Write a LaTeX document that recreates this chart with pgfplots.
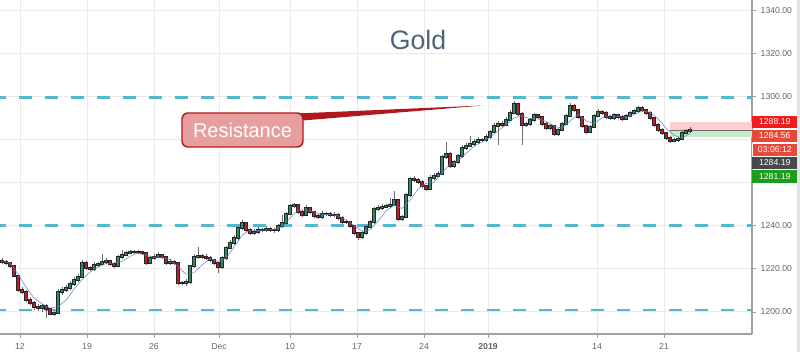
\documentclass[border=0pt]{standalone}
\usepackage{pgfplots}
\pgfplotsset{compat=1.18}
\usepackage{pgfplotstable}
\usepackage{fontspec}
\setmainfont{Liberation Sans}
\definecolor{upc}{RGB}{46,140,98}
\definecolor{dnc}{RGB}{190,30,40}
\definecolor{wickc}{RGB}{110,110,110}
\definecolor{lvl}{RGB}{80,185,208}
\definecolor{gridc}{RGB}{234,234,234}
\definecolor{axc}{RGB}{160,160,160}
\definecolor{tickt}{RGB}{100,100,100}
\definecolor{mac}{RGB}{90,120,200}
\definecolor{titlec}{RGB}{78,100,122}
\definecolor{calfill}{RGB}{230,158,158}
\definecolor{calline}{RGB}{175,25,30}
\definecolor{stripc}{RGB}{225,228,235}
\definecolor{tpfill}{RGB}{252,205,210}
\definecolor{slfill}{RGB}{200,235,205}

\pgfplotstableread{
x o c h l
2 1223.8 1223.2 1225.0 1222.4
6 1223.2 1222.7 1224.1 1221.9
10 1222.7 1221.3 1223.4 1220.6
14 1221.3 1216.7 1222.0 1216.0
18 1216.7 1210.2 1217.3 1209.5
22 1210.2 1209.3 1211.4 1208.2
26 1209.3 1205.6 1210.0 1204.8
30 1205.6 1204.2 1206.9 1203.1
34 1204.2 1202.3 1205.0 1201.0
38 1202.3 1201.9 1203.6 1200.6
42 1201.9 1202.8 1203.9 1200.2
46 1202.8 1201.4 1203.5 1197.3
50 1201.4 1199.1 1202.0 1198.4
54 1199.1 1199.5 1200.6 1198.3
58 1199.5 1209.3 1210.5 1199.0
62 1209.3 1210.2 1211.8 1208.0
66 1210.2 1211.1 1212.7 1209.1
70 1211.1 1213.0 1214.2 1210.3
74 1213.0 1214.8 1216.0 1212.1
78 1214.8 1216.2 1217.4 1214.0
82 1216.2 1222.7 1224.0 1215.6
86 1222.7 1220.4 1223.5 1219.6
90 1220.4 1219.9 1221.5 1218.8
94 1219.9 1221.8 1223.1 1219.2
98 1221.8 1222.3 1223.4 1221.0
102 1222.3 1223.2 1226.8 1221.6
106 1223.2 1223.6 1224.9 1222.4
110 1223.6 1222.3 1224.3 1221.2
114 1222.3 1221.3 1223.0 1220.5
118 1221.3 1225.5 1226.6 1220.8
122 1225.5 1226.4 1228.6 1224.7
126 1226.4 1227.4 1228.5 1225.8
130 1227.4 1227.8 1228.9 1226.8
134 1227.8 1227.8 1228.6 1227.0
138 1227.8 1227.8 1228.7 1226.9
142 1227.8 1227.4 1228.5 1226.6
146 1227.4 1222.7 1228.0 1222.0
150 1222.7 1225.0 1226.1 1222.1
154 1225.0 1225.5 1226.9 1224.2
158 1225.5 1226.4 1227.8 1224.9
162 1226.4 1225.5 1227.0 1224.6
166 1225.5 1222.7 1226.1 1221.9
170 1222.7 1223.2 1224.4 1221.8
174 1223.2 1222.7 1224.0 1221.9
178 1222.7 1213.4 1223.3 1212.5
182 1213.4 1213.4 1214.6 1212.3
186 1213.4 1213.9 1215.1 1212.0
190 1213.9 1221.3 1222.0 1213.1
194 1221.3 1225.5 1226.7 1220.6
198 1225.5 1226.0 1230.0 1224.8
202 1226.0 1225.5 1227.1 1224.5
206 1225.5 1225.0 1226.8 1224.1
210 1225.0 1224.1 1225.9 1223.3
214 1224.1 1222.7 1224.8 1221.8
218 1222.7 1220.9 1223.4 1218.0
222 1220.9 1225.0 1226.0 1220.1
226 1225.0 1229.7 1230.8 1224.3
230 1229.7 1232.0 1233.2 1229.0
234 1232.0 1234.3 1235.6 1231.2
238 1234.3 1238.9 1240.0 1233.6
242 1238.9 1241.3 1242.5 1238.2
246 1241.3 1238.0 1241.9 1237.1
250 1238.0 1236.6 1238.8 1235.7
254 1236.6 1237.1 1238.3 1235.5
258 1237.1 1238.0 1239.2 1236.3
262 1238.0 1238.0 1239.0 1236.9
266 1238.0 1238.5 1239.7 1237.2
270 1238.5 1238.0 1239.4 1237.1
274 1238.0 1238.0 1239.0 1236.8
278 1238.0 1239.9 1241.0 1237.3
282 1239.9 1241.3 1245.0 1239.1
286 1241.3 1245.4 1246.3 1240.6
290 1245.4 1249.1 1250.2 1244.8
294 1249.1 1249.6 1250.6 1248.3
298 1249.6 1246.4 1250.2 1245.6
302 1246.4 1245.0 1247.3 1244.1
306 1245.0 1248.2 1249.4 1244.4
310 1248.2 1246.4 1248.9 1245.6
314 1246.4 1244.5 1247.0 1243.6
318 1244.5 1244.0 1245.6 1243.1
322 1244.0 1245.4 1246.7 1243.3
326 1245.4 1245.4 1246.4 1244.6
330 1245.4 1245.0 1246.2 1244.0
334 1245.0 1245.0 1246.3 1244.1
338 1245.0 1243.6 1245.9 1242.8
342 1243.6 1241.7 1244.3 1240.9
346 1241.7 1241.7 1242.8 1240.6
350 1241.7 1239.9 1242.4 1239.0
354 1239.9 1236.6 1240.5 1235.8
358 1236.6 1234.8 1237.3 1233.5
362 1234.8 1236.6 1237.6 1234.0
366 1236.6 1239.4 1240.3 1235.9
370 1239.4 1241.7 1242.7 1238.8
374 1241.7 1247.8 1248.9 1241.0
378 1247.8 1248.2 1249.4 1246.9
382 1248.2 1248.7 1249.9 1247.5
386 1248.7 1249.1 1250.1 1248.0
390 1249.1 1249.6 1252.8 1248.4
394 1249.6 1251.9 1256.0 1249.0
398 1251.9 1243.1 1252.6 1242.4
402 1243.1 1244.0 1245.2 1242.3
406 1244.0 1254.2 1255.3 1243.4
410 1254.2 1261.7 1262.8 1253.5
414 1261.7 1261.2 1263.2 1260.4
418 1261.2 1260.3 1262.0 1259.4
422 1260.3 1258.4 1261.0 1257.6
426 1258.4 1257.0 1259.1 1256.0
430 1257.0 1262.1 1263.3 1256.4
434 1262.1 1263.1 1264.5 1261.3
438 1263.1 1264.0 1265.2 1262.4
442 1264.0 1271.9 1273.0 1263.3
446 1271.9 1273.3 1279.0 1271.0
450 1273.3 1267.7 1274.0 1266.8
454 1267.7 1269.5 1270.6 1266.9
458 1269.5 1272.3 1273.4 1268.8
462 1272.3 1276.0 1277.2 1271.6
466 1276.0 1277.0 1278.3 1275.2
470 1277.0 1277.9 1281.5 1276.3
474 1277.9 1278.8 1280.0 1277.1
478 1278.8 1279.7 1280.9 1278.0
482 1279.7 1279.7 1280.8 1278.7
486 1279.7 1281.1 1282.3 1278.9
490 1281.1 1283.5 1284.6 1280.4
494 1283.5 1286.2 1287.4 1282.8
498 1286.2 1287.2 1288.5 1277.3
502 1287.2 1286.7 1288.4 1285.8
506 1286.7 1289.0 1290.2 1286.0
510 1289.0 1292.3 1293.5 1288.4
514 1292.3 1296.4 1297.8 1291.6
518 1296.4 1291.8 1297.0 1290.9
522 1291.8 1286.7 1292.5 1277.5
526 1286.7 1287.2 1288.3 1285.9
530 1287.2 1289.0 1290.1 1286.4
534 1289.0 1291.3 1292.4 1288.3
538 1291.3 1290.4 1292.0 1289.5
542 1290.4 1287.2 1291.0 1286.3
546 1287.2 1285.3 1287.9 1284.4
550 1285.3 1286.2 1287.3 1284.6
554 1286.2 1282.5 1286.8 1281.6
558 1282.5 1284.4 1285.5 1281.8
562 1284.4 1287.2 1288.3 1283.7
566 1287.2 1290.9 1292.0 1286.5
570 1290.9 1295.5 1296.8 1290.2
574 1295.5 1293.6 1296.2 1292.7
578 1293.6 1290.4 1294.2 1289.5
582 1290.4 1286.2 1291.0 1285.3
586 1286.2 1283.5 1286.9 1282.5
590 1283.5 1285.8 1286.9 1282.8
594 1285.8 1290.9 1292.0 1285.1
598 1290.9 1292.7 1293.9 1290.2
602 1292.7 1292.3 1293.6 1291.4
606 1292.3 1290.4 1293.0 1289.6
610 1290.4 1289.9 1291.2 1289.0
614 1289.9 1291.3 1292.4 1289.2
618 1291.3 1290.4 1292.0 1289.5
622 1290.4 1289.5 1291.1 1288.6
626 1289.5 1290.9 1292.0 1288.8
630 1290.9 1292.3 1293.4 1290.2
634 1292.3 1293.2 1294.3 1291.6
638 1293.2 1294.6 1295.6 1292.5
642 1294.6 1293.6 1295.3 1292.8
646 1293.6 1292.3 1294.2 1291.5
650 1292.3 1289.9 1293.0 1289.0
654 1289.9 1286.7 1290.5 1285.9
658 1286.7 1284.4 1287.4 1283.5
662 1284.4 1283.0 1285.1 1282.1
666 1283.0 1280.7 1283.6 1279.9
670 1280.7 1279.3 1281.4 1278.4
674 1279.3 1279.7 1280.8 1278.6
678 1279.7 1280.2 1281.3 1278.9
682 1280.2 1283.0 1284.1 1279.6
686 1283.0 1283.9 1285.0 1282.3
690 1283.9 1284.6 1285.6 1283.2
}\candles

\pgfplotstableread{
x m
2 1223.5
10 1222.8
18 1217.5
26 1211.5
34 1206.5
42 1203.8
50 1201.8
58 1202.5
66 1205.5
74 1210.5
82 1215.0
90 1218.5
98 1220.8
106 1222.5
114 1222.6
122 1223.5
130 1225.8
138 1227.4
146 1226.3
154 1225.4
162 1225.4
170 1224.3
178 1221.0
186 1217.5
194 1218.2
202 1221.8
210 1224.8
218 1223.5
226 1225.0
234 1230.0
242 1235.5
250 1238.0
258 1237.8
266 1238.0
274 1238.2
282 1239.5
290 1243.5
298 1247.2
306 1247.4
314 1246.3
322 1245.2
330 1245.2
338 1244.6
346 1242.8
354 1240.2
362 1237.5
370 1238.0
378 1242.2
386 1246.8
394 1249.5
402 1248.0
410 1251.8
418 1257.0
426 1259.6
434 1260.2
442 1264.5
450 1268.5
458 1270.0
466 1273.5
474 1276.8
482 1278.8
490 1281.0
498 1284.0
506 1286.8
514 1290.0
522 1291.0
530 1289.6
538 1289.5
546 1288.4
554 1286.2
562 1285.2
570 1288.5
578 1291.8
586 1288.6
594 1287.3
602 1290.0
610 1291.0
618 1290.6
626 1290.2
634 1291.5
642 1293.3
650 1292.6
658 1289.6
666 1285.3
674 1282.0
682 1280.6
690 1282.8
}\maline

\pgfplotsset{candle/.style={only marks, mark=*, mark size=0pt, mark options={draw=none, fill=none}, forget plot}}

\begin{document}
\begin{tikzpicture}
\useasboundingbox (0,-13.5pt) rectangle (600pt,250.5pt);
\begin{axis}[
  at={(0,0)}, anchor=south west, scale only axis,
  width=564pt, height=250.5pt,
  xmin=0, xmax=752, ymin=1189.8, ymax=1344.65,
  axis x line*=bottom, axis y line*=right,
  axis line style={-, axc, line width=0.9pt},
  tick align=outside, major tick length=3pt,
  tick style={axc, line width=0.6pt},
  grid=major, major grid style={gridc, line width=0.75pt},
  xtick={20,87,154,219,290,357,424,488,597,664},
  xticklabels={12,19,26,Dec,10,17,24,\textbf{2019},14,21},
  ytick={1200,1220,1240,1260,1280,1300,1320,1340},
  yticklabels={1200.00,1220.00,1240.00,,,1300.00,1320.00,1340.00},
  ticklabel style={font=\fontsize{6.5}{8}\selectfont, text=tickt},
  xticklabel style={yshift=-0.5pt},
  restrict y to domain=1100:1400,
]
% position tool
\addplot[draw=none, fill=tpfill, forget plot] coordinates {(670,1284.19) (752,1284.19) (752,1288.19) (670,1288.19)} -- cycle;
\addplot[draw=none, fill=slfill, forget plot] coordinates {(670,1281.19) (752,1281.19) (752,1284.19) (670,1284.19)} -- cycle;
\addplot[color={rgb,255:red,110;green,110;blue,110}, line width=0.6pt, forget plot] coordinates {(670,1284.19) (752,1284.19)};
% levels
\addplot[lvl, line width=1.9pt, dash pattern=on 9.75pt off 9.75pt, dash phase=5.25pt, forget plot] coordinates {(0,1299.5) (752,1299.5)};
\addplot[lvl, line width=1.9pt, dash pattern=on 9.75pt off 9.75pt, dash phase=5.25pt, forget plot] coordinates {(0,1240) (752,1240)};
\addplot[lvl, line width=1.9pt, dash pattern=on 9.75pt off 9.75pt, dash phase=5.25pt, forget plot] coordinates {(0,1201) (752,1201)};
% wicks
\addplot[candle,
  error bars/.cd, y dir=plus, y explicit, error mark=none,
  error bar style={draw=wickc, line width=0.5pt}]
  table[x=x, y=l, y error expr={\thisrow{h}-\thisrow{l}}] {\candles};
% body outlines
\addplot[candle,
  error bars/.cd, y dir=plus, y explicit, error mark=none,
  error bar style={draw=black!85, line width=2.5pt}]
  table[x=x, y expr={min(\thisrow{o},\thisrow{c})-0.3}, y error expr={abs(\thisrow{c}-\thisrow{o})+0.6}] {\candles};
% up bodies
\addplot[candle,
  error bars/.cd, y dir=plus, y explicit, error mark=none,
  error bar style={draw=upc, line width=1.6pt}]
  table[x=x, y expr={\thisrow{c}>=\thisrow{o} ? \thisrow{o} : 0}, y error expr={\thisrow{c}-\thisrow{o}}] {\candles};
% down bodies
\addplot[candle,
  error bars/.cd, y dir=plus, y explicit, error mark=none,
  error bar style={draw=dnc, line width=1.6pt}]
  table[x=x, y expr={\thisrow{c}<\thisrow{o} ? \thisrow{c} : 0}, y error expr={\thisrow{o}-\thisrow{c}}] {\candles};
% moving average
\addplot[mac, line width=0.45pt, opacity=0.85, forget plot] table[x=x, y=m] {\maline};
\end{axis}
\begin{scope}[x=0.75pt, y=-0.75pt, shift={(0,250.5pt)}]
  \fill[stripc] (797,0) rectangle (800,352);
  \node[titlec, font=\fontsize{20}{24}\selectfont] at (418,40) {Gold};
  \fill[calline] (296,113.5) -- (483,105.5) -- (303,120.5) -- cycle;
  \draw[calline, fill=calfill, line width=1.1pt, rounded corners=4.5pt] (182,113) rectangle (303,147);
  \node[white, font=\fontsize{15}{18}\selectfont] at (242.5,130.5) {Resistance};
  \tikzset{pl/.style={anchor=west, minimum width=33.75pt, minimum height=9.6pt, inner sep=0pt, text=white, font=\fontsize{6.5}{8}\selectfont}}
  \node[pl, fill={rgb,255:red,242;green,28;blue,28}] at (752,122) {1288.19};
  \node[pl, fill={rgb,255:red,232;green,72;blue,58}] at (752,136) {1284.56};
  \node[pl, fill={rgb,255:red,232;green,72;blue,58}, draw=white, line width=0.5pt] at (752,149.5) {03:06:12};
  \node[pl, fill={rgb,255:red,72;green,72;blue,72}] at (752,163) {1284.19};
  \node[pl, fill={rgb,255:red,28;green,158;blue,28}] at (752,176.5) {1281.19};
\end{scope}
\end{tikzpicture}
\end{document}
